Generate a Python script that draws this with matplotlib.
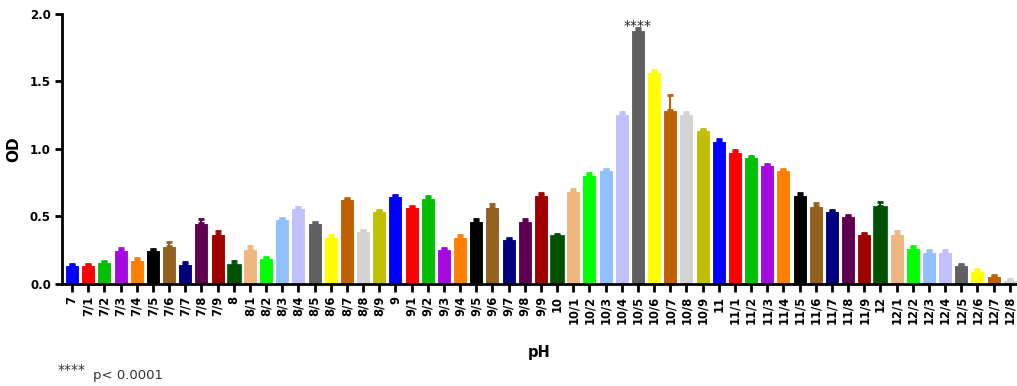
import numpy as np
import matplotlib
matplotlib.use("Agg")
import matplotlib.pyplot as plt

# categories: pH steps 7 ... 12/8
labels = ['7', '7/1', '7/2', '7/3', '7/4', '7/5', '7/6', '7/7', '7/8', '7/9',
          '8', '8/1', '8/2', '8/3', '8/4', '8/5', '8/6', '8/7', '8/8', '8/9',
          '9', '9/1', '9/2', '9/3', '9/4', '9/5', '9/6', '9/7', '9/8', '9/9',
          '10', '10/1', '10/2', '10/3', '10/4', '10/5', '10/6', '10/7', '10/8', '10/9',
          '11', '11/1', '11/2', '11/3', '11/4', '11/5', '11/6', '11/7', '11/8', '11/9',
          '12', '12/1', '12/2', '12/3', '12/4', '12/5', '12/6', '12/7', '12/8']

od = [0.14, 0.14, 0.16, 0.25, 0.18, 0.25, 0.28, 0.15, 0.45, 0.37,
      0.15, 0.26, 0.19, 0.48, 0.56, 0.45, 0.35, 0.63, 0.39, 0.54,
      0.65, 0.57, 0.64, 0.26, 0.35, 0.47, 0.57, 0.33, 0.47, 0.66,
      0.36, 0.69, 0.81, 0.84, 1.26, 1.88, 1.57, 1.29, 1.26, 1.14,
      1.06, 0.98, 0.94, 0.88, 0.84, 0.66, 0.58, 0.54, 0.50, 0.37,
      0.58, 0.37, 0.27, 0.24, 0.24, 0.14, 0.10, 0.06, 0.03]

sd = [0.01, 0.01, 0.01, 0.02, 0.01, 0.01, 0.03, 0.01, 0.03, 0.02,
      0.02, 0.02, 0.01, 0.01, 0.01, 0.01, 0.01, 0.01, 0.01, 0.01,
      0.01, 0.01, 0.01, 0.01, 0.01, 0.01, 0.02, 0.01, 0.01, 0.01,
      0.01, 0.01, 0.01, 0.01, 0.01, 0.01, 0.01, 0.11, 0.01, 0.01,
      0.01, 0.01, 0.01, 0.01, 0.01, 0.01, 0.02, 0.01, 0.01, 0.01,
      0.03, 0.02, 0.01, 0.01, 0.01, 0.01, 0.01, 0.01, 0.01]

palette = ['#0000FF', '#FF0000', '#00C000', '#A50AE1', '#FF8000',
           '#000000', '#946020', '#000080', '#600050', '#A00000',
           '#005000', '#F0B680', '#00FF00', '#90C0FF', '#C0C0FF',
           '#606060', '#FFFF00', '#C06000', '#D3D3D3', '#C0C000']

colors = [palette[i % 20] for i in range(len(labels))]
edges = ['#1A6B48' if c == '#005000' else 'white' for c in colors]
x = np.arange(len(labels))

plt.rcParams['font.family'] = ['DejaVu Sans']
fig = plt.figure(figsize=(10.17, 3.86), dpi=100)
ax = fig.add_axes([0.061, 0.264, 0.939, 0.7008])

ax.bar(x, od, width=0.86, color=colors, edgecolor=edges, linewidth=0.8, zorder=2)
for xi, v, e, c in zip(x, od, sd, colors):
    ax.errorbar(xi, v, yerr=[[0], [e]], fmt='none', ecolor=c,
                elinewidth=1.5, capsize=2.5, capthick=2, zorder=3)

peak = labels.index('10/5')
ax.text(x[peak], od[peak] - 0.005, '****', ha='center', va='baseline',
        fontsize=10, color='#222222', zorder=5)

ax.set_xlim(-0.62, 58.45)
ax.set_ylim(0, 2.0)
ax.set_yticks([0.0, 0.5, 1.0, 1.5, 2.0])
ax.set_yticklabels(['0.0', '0.5', '1.0', '1.5', '2.0'], fontweight='bold', fontsize=8.5)
ax.set_xticks(x)
ax.set_xticklabels(labels, rotation=90, fontweight='bold', fontsize=8.3)

for s in ['top', 'right']:
    ax.spines[s].set_visible(False)
for s in ['left', 'bottom']:
    ax.spines[s].set_linewidth(2)
ax.spines['bottom'].set_zorder(4)
ax.tick_params(axis='both', width=2, length=5, pad=3)
ax.tick_params(axis='x', length=5.5)

ax.set_xlabel('pH', fontweight='bold', fontsize=10.5, labelpad=15)
ax.set_ylabel('OD', fontweight='bold', fontsize=11, labelpad=6)

fig.text(0.057, 0.024, '****', fontsize=10, color='#333333', va='bottom')
fig.text(0.091, 0.010, 'p< 0.0001', fontsize=9.5, color='#333333', va='bottom')

fig.savefig('out.png', dpi=100)
